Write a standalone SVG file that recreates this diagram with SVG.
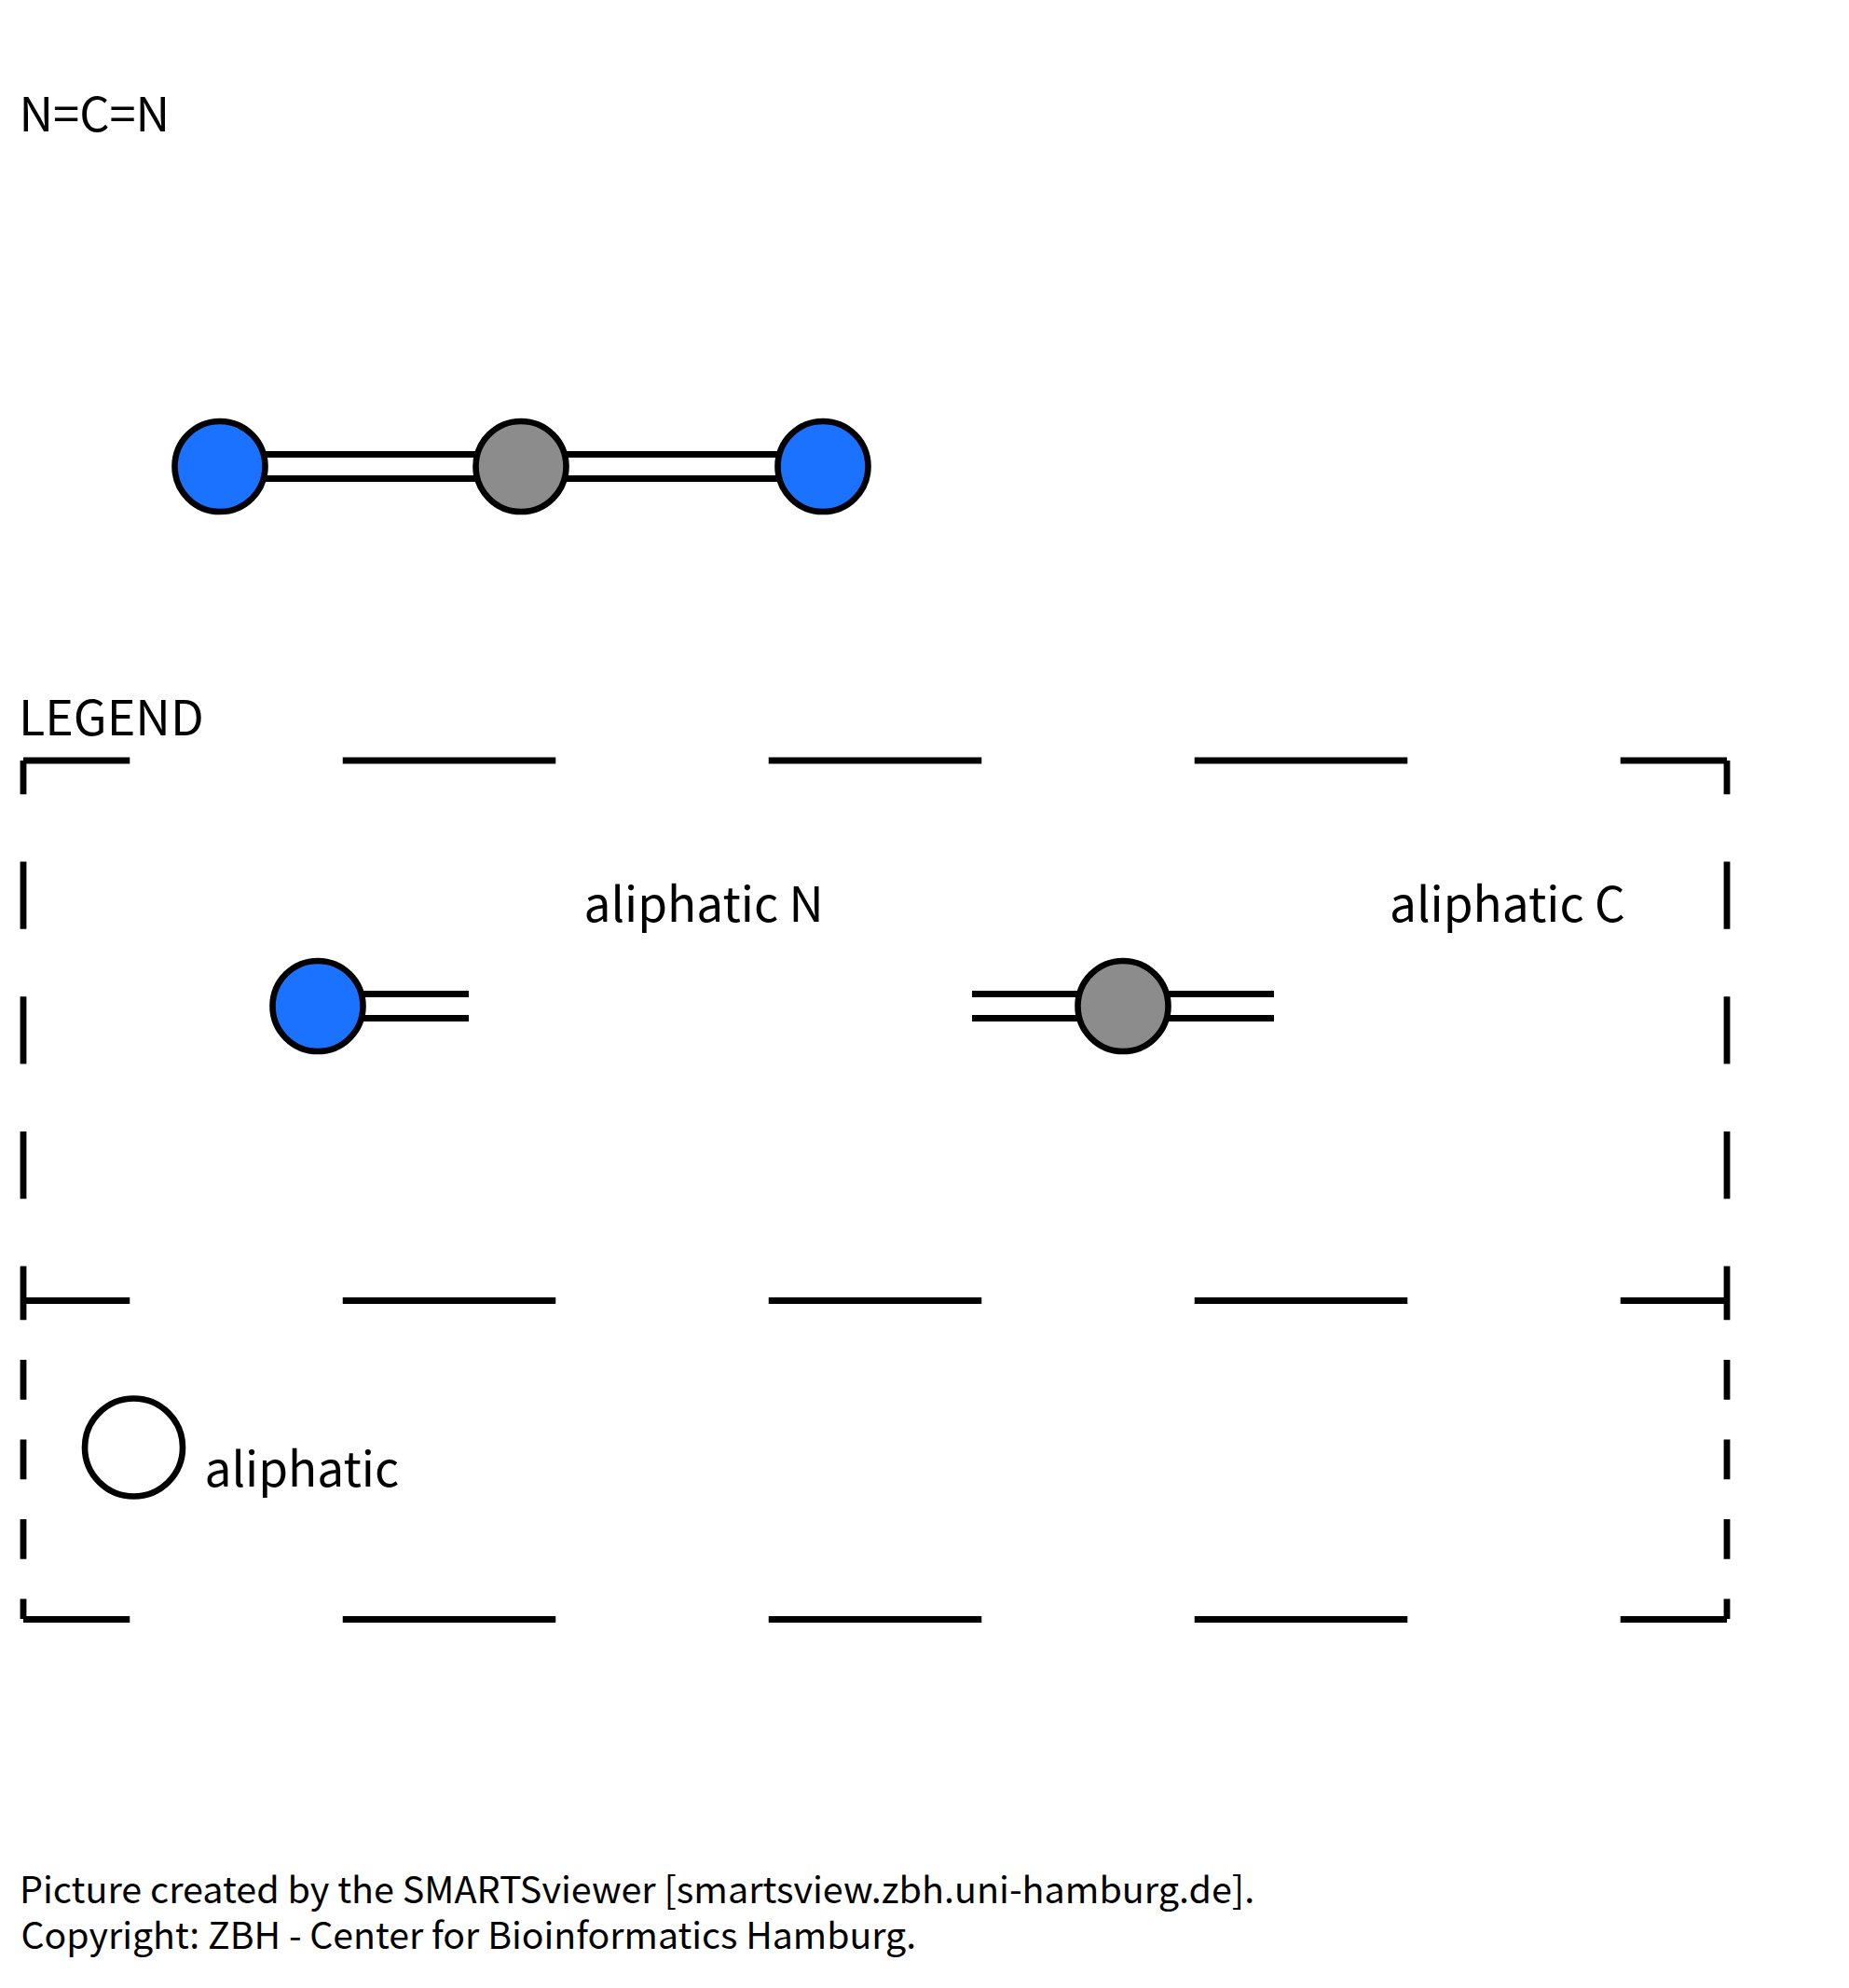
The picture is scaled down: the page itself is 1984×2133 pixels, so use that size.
<svg xmlns="http://www.w3.org/2000/svg" width="1984" height="2133" viewBox="0 0 1984 2133">
<style>
text{font-family:"Noto Sans CJK SC","Noto Sans",sans-serif;fill:#000}
.t{font-size:51.4px}
.f{font-size:39.5px}
.bond{stroke:#000;stroke-width:7;fill:none}
.atom{stroke:#000;stroke-width:6.6}
.n{fill:#1a72ff}
.c{fill:#8c8c8c}
.frame{stroke:#000;stroke-width:6.8;fill:none}
.h{stroke-dasharray:228.5;stroke-dashoffset:114.25}
.v1{stroke-dasharray:72.35;stroke-dashoffset:36.18}
.v2{stroke-dasharray:42.75;stroke-dashoffset:21.38}
</style>
<rect width="1984" height="2133" fill="#fff"/>
<text id="title" class="t" x="20.5" y="141" style="font-size:50.6px">N=C=N</text>
<g id="connectors">
<path class="bond" d="M236 487.5H559M236 513.5H559M559 487.5H883M559 513.5H883"/>
<path class="bond" d="M341 1066.5H503M341 1092.5H503"/>
<path class="bond" d="M1043 1066.5H1367M1043 1092.5H1367"/>
</g>
<g id="atom-n1"><circle class="atom n" cx="236" cy="500.5" r="48.5"/></g>
<g id="atom-c"><circle class="atom c" cx="559" cy="500.5" r="48.5"/></g>
<g id="atom-n2"><circle class="atom n" cx="883" cy="500.5" r="48.5"/></g>
<text id="legend-title" class="t" x="20" y="788.5" style="font-size:52px">LEGEND</text>
<g id="legend-frame">
<line class="frame h" x1="25" y1="816" x2="1853" y2="816"/>
<line class="frame h" x1="25" y1="1395.5" x2="1853" y2="1395.5"/>
<line class="frame h" x1="25" y1="1737.5" x2="1853" y2="1737.5"/>
<line class="frame v1" x1="25" y1="816" x2="25" y2="1395"/>
<line class="frame v1" x1="1853" y1="816" x2="1853" y2="1395"/>
<line class="frame v2" x1="25" y1="1395" x2="25" y2="1737"/>
<line class="frame v2" x1="1853" y1="1395" x2="1853" y2="1737"/>
</g>
<g id="legend-n"><circle class="atom n" cx="341" cy="1079.5" r="48.5"/><text class="t" x="626.5" y="988.5">aliphatic N</text></g>
<g id="legend-c"><circle class="atom c" cx="1205" cy="1079.5" r="48.5"/><text class="t" x="1491" y="988.5">aliphatic C</text></g>
<g id="legend-aliphatic"><circle class="atom" fill="#fff" cx="143.5" cy="1553" r="52.5"/><text class="t" x="219.5" y="1594.5">aliphatic</text></g>
<text id="credit-1" class="f" x="21" y="2042">Picture created by the SMARTSviewer [smartsview.zbh.uni-hamburg.de].</text>
<text id="credit-2" class="f" x="22.5" y="2091" style="font-size:39.25px">Copyright: ZBH - Center for Bioinformatics Hamburg.</text>
</svg>
